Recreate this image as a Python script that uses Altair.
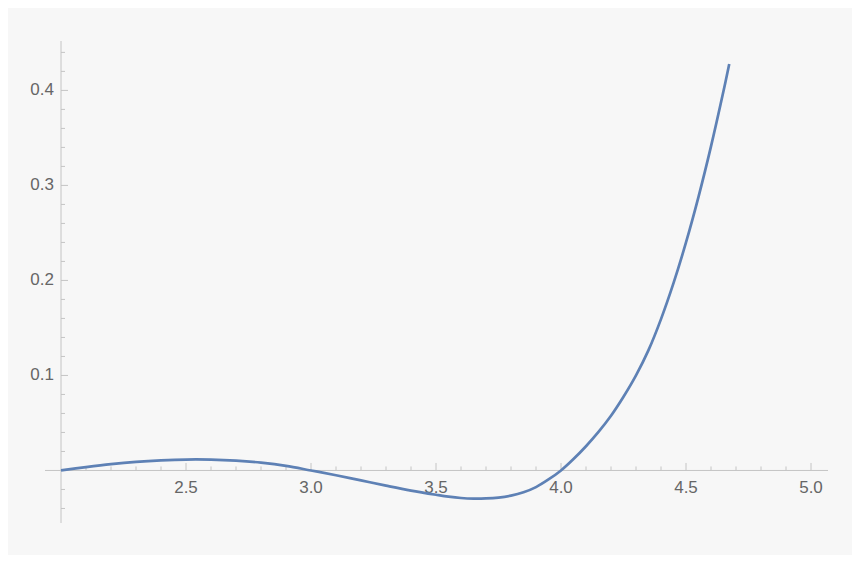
import altair as alt
import pandas as pd

# Curve samples
x_vals = [2.0, 2.1, 2.2, 2.3, 2.4, 2.5, 2.6, 2.7, 2.8, 2.9, 3.0,
          3.1, 3.2, 3.3, 3.4, 3.5, 3.55, 3.6, 3.65, 3.7, 3.75, 3.8, 3.85, 3.9, 3.95, 4.0,
          4.05, 4.1, 4.15, 4.2, 4.25, 4.3, 4.35, 4.4, 4.45, 4.5, 4.55, 4.6, 4.65, 4.673]
y_vals = [0.0, 0.0035, 0.0066, 0.0090, 0.0106, 0.0115, 0.0114, 0.0103, 0.0082, 0.0049, 0.0,
          -0.0050, -0.0105, -0.0160, -0.0212, -0.0256, -0.0276, -0.0290, -0.0296, -0.0294, -0.0285,
          -0.0265, -0.0230, -0.0175, -0.0095, 0.0,
          0.0120, 0.0255, 0.0405, 0.0575, 0.0775, 0.1000, 0.1266, 0.1593, 0.1971, 0.2400,
          0.2880, 0.3411, 0.3993, 0.4278]

# Tick values
x_major = [2.5, 3.0, 3.5, 4.0, 4.5, 5.0]
x_minor = [2.1, 2.2, 2.3, 2.4, 2.6, 2.7, 2.8, 2.9, 3.1, 3.2, 3.3, 3.4,
           3.6, 3.7, 3.8, 3.9, 4.1, 4.2, 4.3, 4.4, 4.6, 4.7, 4.8, 4.9]
y_major = [0.1, 0.2, 0.3, 0.4]
y_minor = [-0.04, -0.02, 0.02, 0.04, 0.06, 0.08, 0.12, 0.14, 0.16, 0.18,
           0.22, 0.24, 0.26, 0.28, 0.32, 0.34, 0.36, 0.38, 0.42, 0.44]

X_DOMAIN = [1.936, 5.068]
Y_DOMAIN = [-0.0553, 0.452]
X_ORIGIN = 2.0
Y_ORIGIN = 0.0

AXIS_COLOR = "#c4c4c4"
LABEL_COLOR = "#666666"
LINE_COLOR = "#5e81b5"
FONT = "Liberation Sans"
FONT_SIZE = 17

xs = alt.Scale(domain=X_DOMAIN, nice=False, zero=False)
ys = alt.Scale(domain=Y_DOMAIN, nice=False, zero=False)

curve_df = pd.DataFrame({"x": x_vals, "y": y_vals})

curve = alt.Chart(curve_df).mark_line(
    color=LINE_COLOR, strokeWidth=2.7, interpolate="catmull-rom"
).encode(
    x=alt.X("x:Q", scale=xs, axis=None),
    y=alt.Y("y:Q", scale=ys, axis=None),
)

# axis lines
xline = alt.Chart(pd.DataFrame({"a": [X_DOMAIN[0]], "b": [X_DOMAIN[1]], "y": [Y_ORIGIN]})).mark_rule(
    color=AXIS_COLOR, strokeWidth=1
).encode(x=alt.X("a:Q", scale=xs, axis=None), x2="b:Q", y=alt.Y("y:Q", scale=ys, axis=None))

yline = alt.Chart(pd.DataFrame({"a": [Y_DOMAIN[0]], "b": [Y_DOMAIN[1]], "x": [X_ORIGIN]})).mark_rule(
    color=AXIS_COLOR, strokeWidth=1
).encode(y=alt.Y("a:Q", scale=ys, axis=None), y2="b:Q", x=alt.X("x:Q", scale=xs, axis=None))


def xticks(vals, length):
    df = pd.DataFrame({"v": vals, "z": [Y_ORIGIN] * len(vals)})
    return alt.Chart(df).mark_rule(color=AXIS_COLOR, strokeWidth=1, y2Offset=-length).encode(
        x=alt.X("v:Q", scale=xs, axis=None),
        y=alt.Y("z:Q", scale=ys, axis=None),
        y2="z:Q",
    )


def yticks(vals, length):
    df = pd.DataFrame({"v": vals, "z": [X_ORIGIN] * len(vals)})
    return alt.Chart(df).mark_rule(color=AXIS_COLOR, strokeWidth=1, x2Offset=length).encode(
        y=alt.Y("v:Q", scale=ys, axis=None),
        x=alt.X("z:Q", scale=xs, axis=None),
        x2="z:Q",
    )


xlabels = alt.Chart(pd.DataFrame({"v": x_major, "z": [Y_ORIGIN] * len(x_major)})).mark_text(
    font=FONT, fontSize=FONT_SIZE, color=LABEL_COLOR, dy=18, baseline="middle", align="center"
).encode(
    x=alt.X("v:Q", scale=xs, axis=None),
    y=alt.Y("z:Q", scale=ys, axis=None),
    text=alt.Text("v:Q", format=".1f"),
)

ylabels = alt.Chart(pd.DataFrame({"v": y_major, "z": [X_ORIGIN] * len(y_major)})).mark_text(
    font=FONT, fontSize=FONT_SIZE, color=LABEL_COLOR, dx=-7, baseline="middle", align="right"
).encode(
    y=alt.Y("v:Q", scale=ys, axis=None),
    x=alt.X("z:Q", scale=xs, axis=None),
    text=alt.Text("v:Q", format=".1f"),
)

chart = alt.layer(
    xline, yline,
    xticks(x_minor, 4), xticks(x_major, 7.5),
    yticks(y_minor, 4), yticks(y_major, 7),
    xlabels, ylabels,
    curve,
).properties(
    width=783,
    height=482,
    autosize=alt.AutoSizeParams(type="none"),
    padding={"left": 37, "top": 33, "right": 24, "bottom": 32},
    background="#f7f7f7",
).configure_view(stroke=None)

chart.save("out.html", embed_options={"renderer": "svg", "actions": False})
